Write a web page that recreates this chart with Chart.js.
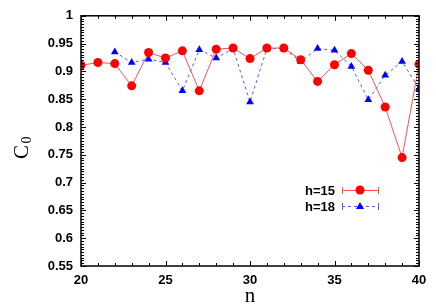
<!DOCTYPE html>
<html>
<head>
<meta charset="utf-8">
<script src="https://cdn.jsdelivr.net/npm/chart.js@4/dist/chart.umd.min.js"></script>
<style>
  html, body { margin: 0; padding: 0; background: #fff; }
  #wrap { width: 436px; height: 306px; }
</style>
</head>
<body>
<div id="wrap"><canvas id="chart" width="436" height="306"></canvas></div>
<script>
// data
const nH15 = [20, 21, 22, 23, 24, 25, 26, 27, 28, 29, 30, 31, 32, 33, 34, 35, 36, 37, 38, 39, 40];
const c0H15 = [0.911, 0.916, 0.914, 0.874, 0.934, 0.924, 0.937, 0.865, 0.940, 0.942, 0.923,
  0.942, 0.942, 0.921, 0.882, 0.912, 0.932, 0.902, 0.836, 0.745, 0.913];
const nH18 = [22, 23, 24, 25, 26, 27, 28, 29, 30, 31, 32, 33, 34, 35, 36, 37, 38, 39, 40];
const c0H18 = [0.935, 0.916, 0.922, 0.916, 0.865, 0.939, 0.924, 0.941, 0.845,
  0.941, 0.941, 0.918, 0.941, 0.938, 0.909, 0.849, 0.893, 0.918, 0.869];
const xTicks = [20, 25, 30, 35, 40];
const yTicks = [0.55, 0.6, 0.65, 0.7, 0.75, 0.8, 0.85, 0.9, 0.95, 1];

const toPoints = (xs, ys) => xs.map((x, i) => ({ x, y: ys[i] }));
const tickFont = { family: "'Liberation Sans', Arial, sans-serif", size: 13, weight: 'bold' };

// inward ticks on all four sides, frame, axis titles and the gnuplot style key
const framePlugin = {
  id: 'frame',
  afterDraw(chart) {
    const { ctx, chartArea: a, scales } = chart;
    const xs = scales.x, ys = scales.y;
    ctx.save();
    ctx.strokeStyle = '#000';
    ctx.lineWidth = 1;
    ctx.beginPath();
    for (let v = 20; v <= 40; v++) {
      const px = Math.round(xs.getPixelForValue(v)) + 0.5;
      const len = v % 5 === 0 ? 5 : 3;
      ctx.moveTo(px, a.bottom); ctx.lineTo(px, a.bottom - len);
      ctx.moveTo(px, a.top); ctx.lineTo(px, a.top + len);
    }
    for (let k = 0; k <= 90; k++) {
      const v = 0.55 + k * 0.005;
      const py = Math.round(ys.getPixelForValue(v)) + 0.5;
      const len = k % 10 === 0 ? 5 : 3;
      ctx.moveTo(a.left, py); ctx.lineTo(a.left + len, py);
      ctx.moveTo(a.right, py); ctx.lineTo(a.right - len, py);
    }
    ctx.stroke();
    ctx.lineWidth = 1.5;
    ctx.strokeRect(a.left, a.top, a.right - a.left, a.bottom - a.top);

    // axis titles
    ctx.fillStyle = '#000';
    ctx.font = "21px 'Liberation Serif', 'DejaVu Serif', serif";
    ctx.textAlign = 'center';
    ctx.textBaseline = 'middle';
    ctx.fillText('n', (a.left + a.right) / 2, 296);
    ctx.save();
    ctx.translate(22, 148);
    ctx.rotate(-Math.PI / 2);
    ctx.fillText('C', -4, 0);
    ctx.font = "14px 'Liberation Serif', 'DejaVu Serif', serif";
    ctx.fillText('0', 8, 5);
    ctx.restore();

    // key
    const keyRows = [190, 206];
    chart.data.datasets.forEach((ds, i) => {
      const y = keyRows[i];
      ctx.font = "bold 13px 'Liberation Sans', Arial, sans-serif";
      ctx.textAlign = 'right';
      ctx.fillStyle = '#000';
      ctx.fillText(ds.label, 335, y + 1);
      ctx.strokeStyle = ds.borderColor;
      ctx.lineWidth = 1;
      ctx.setLineDash(ds.borderDash || []);
      ctx.beginPath();
      ctx.moveTo(342, y + 0.5); ctx.lineTo(379, y + 0.5);
      ctx.stroke();
      ctx.setLineDash([]);
      ctx.beginPath();
      ctx.moveTo(342.5, y - 3); ctx.lineTo(342.5, y + 4);
      ctx.moveTo(378.5, y - 3); ctx.lineTo(378.5, y + 4);
      ctx.stroke();
      ctx.fillStyle = ds.pointBackgroundColor;
      ctx.beginPath();
      if (ds.pointStyle === 'triangle') {
        ctx.moveTo(360, y - 4); ctx.lineTo(364, y + 3); ctx.lineTo(356, y + 3);
      } else {
        ctx.arc(360, y, 4.5, 0, Math.PI * 2);
      }
      ctx.fill();
    });
    ctx.restore();
  }
};

new Chart(document.getElementById('chart'), {
  type: 'line',
  data: {
    datasets: [{
      label: 'h=15',
      data: toPoints(nH15, c0H15),
      borderColor: '#ff5050',
      borderWidth: 1,
      pointStyle: 'circle',
      pointRadius: 4.5,
      pointBackgroundColor: '#ff0000',
      pointBorderColor: '#ff0000',
      pointBorderWidth: 0,
      tension: 0
    }, {
      label: 'h=18',
      data: toPoints(nH18, c0H18),
      borderColor: '#5a5aff',
      borderWidth: 1,
      borderDash: [3, 3],
      pointStyle: 'triangle',
      pointRadius: 4.5,
      pointBackgroundColor: '#0000ff',
      pointBorderColor: '#0000ff',
      pointBorderWidth: 0,
      tension: 0
    }]
  },
  options: {
    responsive: false,
    animation: false,
    events: [],
    layout: { padding: { top: 14, right: 17, bottom: 0, left: 0 } },
    plugins: { legend: { display: false }, tooltip: { enabled: false } },
    scales: {
      x: {
        type: 'linear',
        min: 20,
        max: 40,
        afterFit: (scale) => { scale.height = 40; },
        afterBuildTicks: (scale) => { scale.ticks = xTicks.map((value) => ({ value })); },
        grid: { display: false, drawTicks: false },
        border: { display: false },
        ticks: { color: '#000', font: tickFont, padding: 7, maxRotation: 0 }
      },
      y: {
        min: 0.55,
        max: 1,
        afterFit: (scale) => { scale.width = 81; },
        afterBuildTicks: (scale) => { scale.ticks = yTicks.map((value) => ({ value })); },
        grid: { display: false, drawTicks: false },
        border: { display: false },
        ticks: {
          color: '#000',
          font: tickFont,
          padding: 8,
          callback: (value) => String(Number(value.toFixed(2)))
        }
      }
    }
  },
  plugins: [framePlugin]
});
</script>
</body>
</html>
